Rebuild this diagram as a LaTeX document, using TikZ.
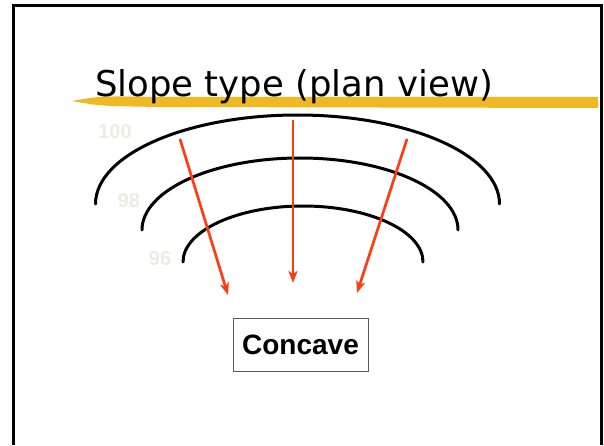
\documentclass[tikz,border=0pt]{standalone}
\usepackage{fontspec}
\usetikzlibrary{positioning, arrows.meta}
\newfontfamily\titlefont{DejaVu Sans}
\newfontfamily\labelfont{Liberation Sans}
\definecolor{marker}{RGB}{240,185,35}
\definecolor{flow}{RGB}{255,60,15}
\definecolor{elev}{RGB}{240,235,225}

\begin{document}
\begin{tikzpicture}[
    x=1pt, y=1pt, >=Stealth,
    frame/.style={line width=3pt},
    contour/.style={line width=3pt, line cap=round},
    elevlabel/.style={text=elev, font=\labelfont\bfseries\fontsize{20}{24}\selectfont},
    box/.style={rectangle, draw=black!65, line width=1pt,
                minimum width=135pt, minimum height=53pt,
                font=\labelfont\bfseries\fontsize{28}{32}\selectfont},
    arrow/.style={-{Stealth[length=12pt, width=9pt, inset=3pt]}, flow, line width=2.7pt}
]
  \useasboundingbox (0,0) rectangle (604,445);

  % slide frame, open at the bottom
  \draw[frame] (13,0) -- (13,439) -- (601,439) -- (601,0);

  % title with highlighter stroke
  \fill[marker] (72,344) .. controls (100,349) .. (160,348) -- (598,348)
      -- (598,337) -- (160,338) .. controls (100,339) .. (72,344);
  \node[anchor=base west, font=\titlefont\fontsize{35.5}{42}\selectfont, inner sep=0pt]
      (title) at (95,348) {Slope type (plan view)};

  % contours
  \draw[contour] (95.5,241) arc[start angle=180, end angle=0, x radius=202, y radius=89];
  \draw[contour] (142,215) arc[start angle=180, end angle=0, x radius=158, y radius=72];
  \draw[contour] (183,183) arc[start angle=180, end angle=0, x radius=120, y radius=56];

  \node[elevlabel] (e100) at (115,313) {100};
  \node[elevlabel] (e98) at (129,244) {98};
  \node[elevlabel] (e96) at (160,186) {96};

  % flow lines converge
  \coordinate (l1) at (180,306);
  \coordinate (l2) at (228,150);
  \coordinate (m1) at (293,325);
  \coordinate (m2) at (293,162);
  \coordinate (r1) at (407,306);
  \coordinate (r2) at (357,152);
  \draw[arrow] (l1) -- (l2);
  \draw[arrow] (m1) -- (m2);
  \draw[arrow] (r1) -- (r2);

  \node[box] (type) at (300.5,100.5) {Concave};
\end{tikzpicture}
\end{document}
